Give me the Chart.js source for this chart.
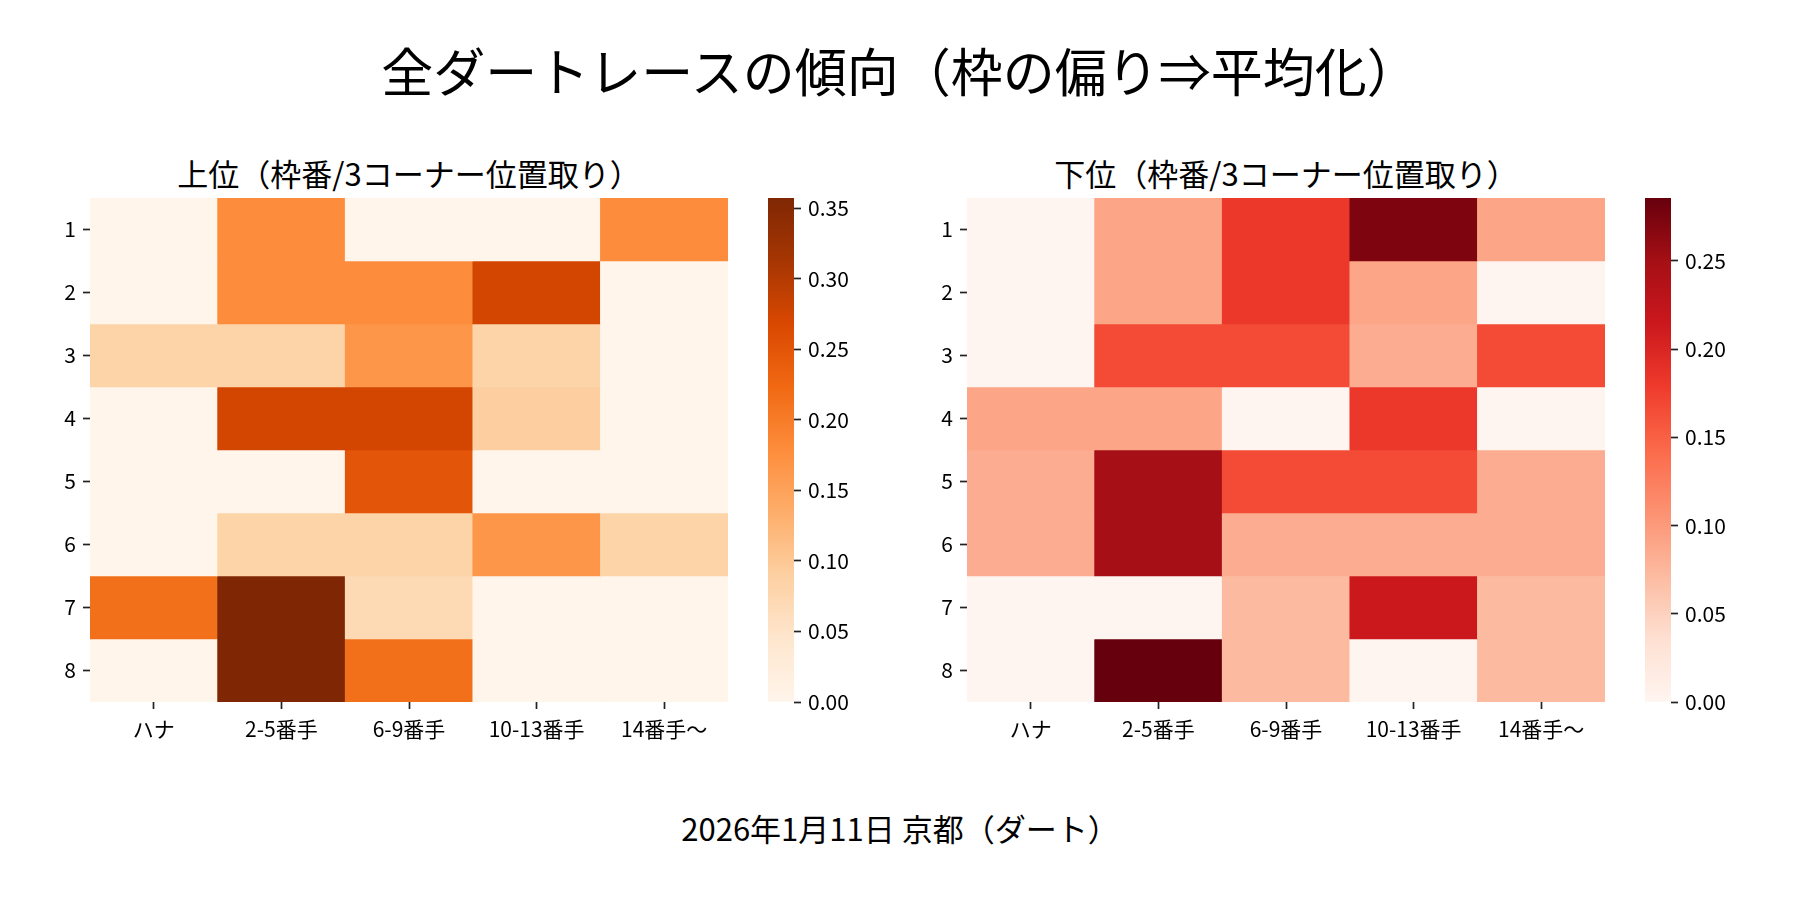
<!DOCTYPE html>
<html>
<head>
<meta charset="utf-8">
<script src="https://cdn.jsdelivr.net/npm/chart.js@4.4.1/dist/chart.umd.min.js"></script>
<style>
html, body { margin: 0; padding: 0; background: #fff; }
#wrap { position: relative; width: 1800px; height: 900px; overflow: hidden; background: #fff;
  font-family: "Noto Sans CJK JP", "Noto Sans", sans-serif; color: #000; }
canvas { position: absolute; }
.t { position: absolute; white-space: nowrap; transform: translateX(-50%); line-height: 1; }
</style>
</head>
<body>
<div id="wrap">
  <div class="t" id="supTitle" style="left:900px;top:44px;font-size:52px;"></div>
  <div class="t" id="leftTitle" style="left:409px;top:157px;font-size:31px;"></div>
  <div class="t" id="rightTitle" style="left:1286px;top:157px;font-size:31px;"></div>
  <div class="t" id="footer" style="left:900px;top:812px;font-size:31px;"></div>
  <canvas id="hmTop" width="728" height="564" style="left:0px;top:198px;"></canvas>
  <canvas id="cbTop" width="110" height="544" style="left:768px;top:178px;"></canvas>
  <canvas id="hmBottom" width="728" height="564" style="left:877px;top:198px;"></canvas>
  <canvas id="cbBottom" width="110" height="544" style="left:1645px;top:178px;"></canvas>
</div>
<script>
// ---------- data ----------
const supTitleText = '全ダートレースの傾向（枠の偏り⇒平均化）';
const topTitleText = '上位（枠番/3コーナー位置取り）';
const bottomTitleText = '下位（枠番/3コーナー位置取り）';
const footerText = '2026年1月11日 京都（ダート）';

const colLabels = ['ハナ', '2-5番手', '6-9番手', '10-13番手', '14番手〜'];
const rowLabels = ['1', '2', '3', '4', '5', '6', '7', '8'];

// 上位 (rows = 枠番 1..8, cols = position groups)
const topValues = [
  [0.0,    0.1786, 0.0,    0.0,    0.1786],
  [0.0,    0.1786, 0.1786, 0.2727, 0.0   ],
  [0.0833, 0.0833, 0.1667, 0.0833, 0.0   ],
  [0.0,    0.2727, 0.2727, 0.0909, 0.0   ],
  [0.0,    0.0,    0.25,   0.0,    0.0   ],
  [0.0,    0.0833, 0.0833, 0.1667, 0.0833],
  [0.2143, 0.3571, 0.0714, 0.0,    0.0   ],
  [0.0,    0.3571, 0.2143, 0.0,    0.0   ]
];
// 下位
const bottomValues = [
  [0.0,    0.0909, 0.1818, 0.2727, 0.0909],
  [0.0,    0.0909, 0.1818, 0.0909, 0.0   ],
  [0.0,    0.1667, 0.1667, 0.0833, 0.1667],
  [0.0909, 0.0909, 0.0,    0.1818, 0.0   ],
  [0.0833, 0.25,   0.1667, 0.1667, 0.0833],
  [0.0833, 0.25,   0.0833, 0.0833, 0.0833],
  [0.0,    0.0,    0.0714, 0.2143, 0.0714],
  [0.0,    0.2857, 0.0714, 0.0,    0.0714]
];
const topMax = 0.3571;
const bottomMax = 0.2857;
const topCbarTicks = [0.00, 0.05, 0.10, 0.15, 0.20, 0.25, 0.30, 0.35];
const bottomCbarTicks = [0.00, 0.05, 0.10, 0.15, 0.20, 0.25];

const orangesStops = ['#fff5eb','#fee6ce','#fdd0a2','#fdae6b','#fd8d3c','#f16913','#d94801','#a63603','#7f2704'];
const redsStops    = ['#fff5f0','#fee0d2','#fcbba1','#fc9272','#fb6a4a','#ef3b2c','#cb181d','#a50f15','#67000d'];

// ---------- helpers ----------
document.getElementById('supTitle').textContent = supTitleText;
document.getElementById('leftTitle').textContent = topTitleText;
document.getElementById('rightTitle').textContent = bottomTitleText;
document.getElementById('footer').textContent = footerText;

const FONT = '"Noto Sans CJK JP", "Noto Sans", sans-serif';
Chart.defaults.font.family = FONT;
Chart.defaults.color = '#000';

function hexToRgb(h) {
  return [parseInt(h.slice(1,3),16), parseInt(h.slice(3,5),16), parseInt(h.slice(5,7),16)];
}
function cmap(stops, t) {
  t = Math.max(0, Math.min(1, t));
  const n = stops.length - 1;
  const p = t * n;
  const i = Math.min(Math.floor(p), n - 1);
  const f = p - i;
  const a = hexToRgb(stops[i]), b = hexToRgb(stops[i + 1]);
  const c = a.map((v, k) => Math.round(v + (b[k] - v) * f));
  return `rgb(${c[0]},${c[1]},${c[2]})`;
}

const tickGrid = {
  display: true, drawOnChartArea: false, drawTicks: true,
  tickLength: 7, tickWidth: 1.7, tickColor: '#222'
};
const tickFont = { family: FONT, size: 21 };

function heatmap(id, values, vmax, stops) {
  const datasets = rowLabels.map((r, i) => ({
    label: r,
    data: colLabels.map(() => [i, i + 1]),
    backgroundColor: values[i].map(v => cmap(stops, v / vmax)),
    borderWidth: 0,
    grouped: false,
    barPercentage: 1,
    categoryPercentage: 1
  }));
  new Chart(document.getElementById(id), {
    type: 'bar',
    data: { labels: colLabels, datasets },
    options: {
      responsive: false, animation: false, events: [],
      layout: { padding: 0 },
      plugins: { legend: { display: false }, tooltip: { enabled: false }, title: { display: false } },
      scales: {
        x: {
          type: 'category', offset: true,
          grid: Object.assign({ offset: false }, tickGrid),
          border: { display: false },
          ticks: { color: '#000', font: tickFont, padding: 7, maxRotation: 0, autoSkip: false },
          afterFit(s) { s.height = 60; s.paddingLeft = 0; s.paddingRight = 0; }
        },
        y: {
          type: 'linear', min: 0, max: 8, reverse: true,
          grid: tickGrid,
          border: { display: false },
          ticks: { color: '#000', font: tickFont, padding: 7, callback: v => rowLabels[Math.floor(v)] },
          afterBuildTicks(s) { s.ticks = rowLabels.map((_, i) => ({ value: i + 0.5 })); },
          afterFit(s) { s.width = 90; s.paddingTop = 0; s.paddingBottom = 0; }
        }
      }
    }
  });
}

function colorbar(id, vmax, ticks, stops) {
  const el = document.getElementById(id);
  new Chart(el, {
    type: 'bar',
    data: {
      labels: [''],
      datasets: [{
        data: [[0, vmax]],
        borderWidth: 0,
        barPercentage: 1,
        categoryPercentage: 1,
        backgroundColor(ctx) {
          const a = ctx.chart.chartArea;
          if (!a) return stops[0];
          const g = ctx.chart.ctx.createLinearGradient(0, a.bottom, 0, a.top);
          stops.forEach((c, i) => g.addColorStop(i / (stops.length - 1), c));
          return g;
        }
      }]
    },
    options: {
      responsive: false, animation: false, events: [],
      layout: { padding: { top: 20, bottom: 20, left: 0, right: 0 } },
      plugins: { legend: { display: false }, tooltip: { enabled: false } },
      scales: {
        x: { display: false },
        y: {
          position: 'right', min: 0, max: vmax,
          grid: tickGrid,
          border: { display: false },
          ticks: { color: '#000', font: tickFont, padding: 7, callback: v => v.toFixed(2) },
          afterBuildTicks(s) { s.ticks = ticks.map(v => ({ value: v })); },
          afterFit(s) { s.width = el.width - 26; s.paddingTop = 0; s.paddingBottom = 0; }
        }
      }
    }
  });
}

heatmap('hmTop', topValues, topMax, orangesStops);
colorbar('cbTop', topMax, topCbarTicks, orangesStops);
heatmap('hmBottom', bottomValues, bottomMax, redsStops);
colorbar('cbBottom', bottomMax, bottomCbarTicks, redsStops);
</script>
</body>
</html>
